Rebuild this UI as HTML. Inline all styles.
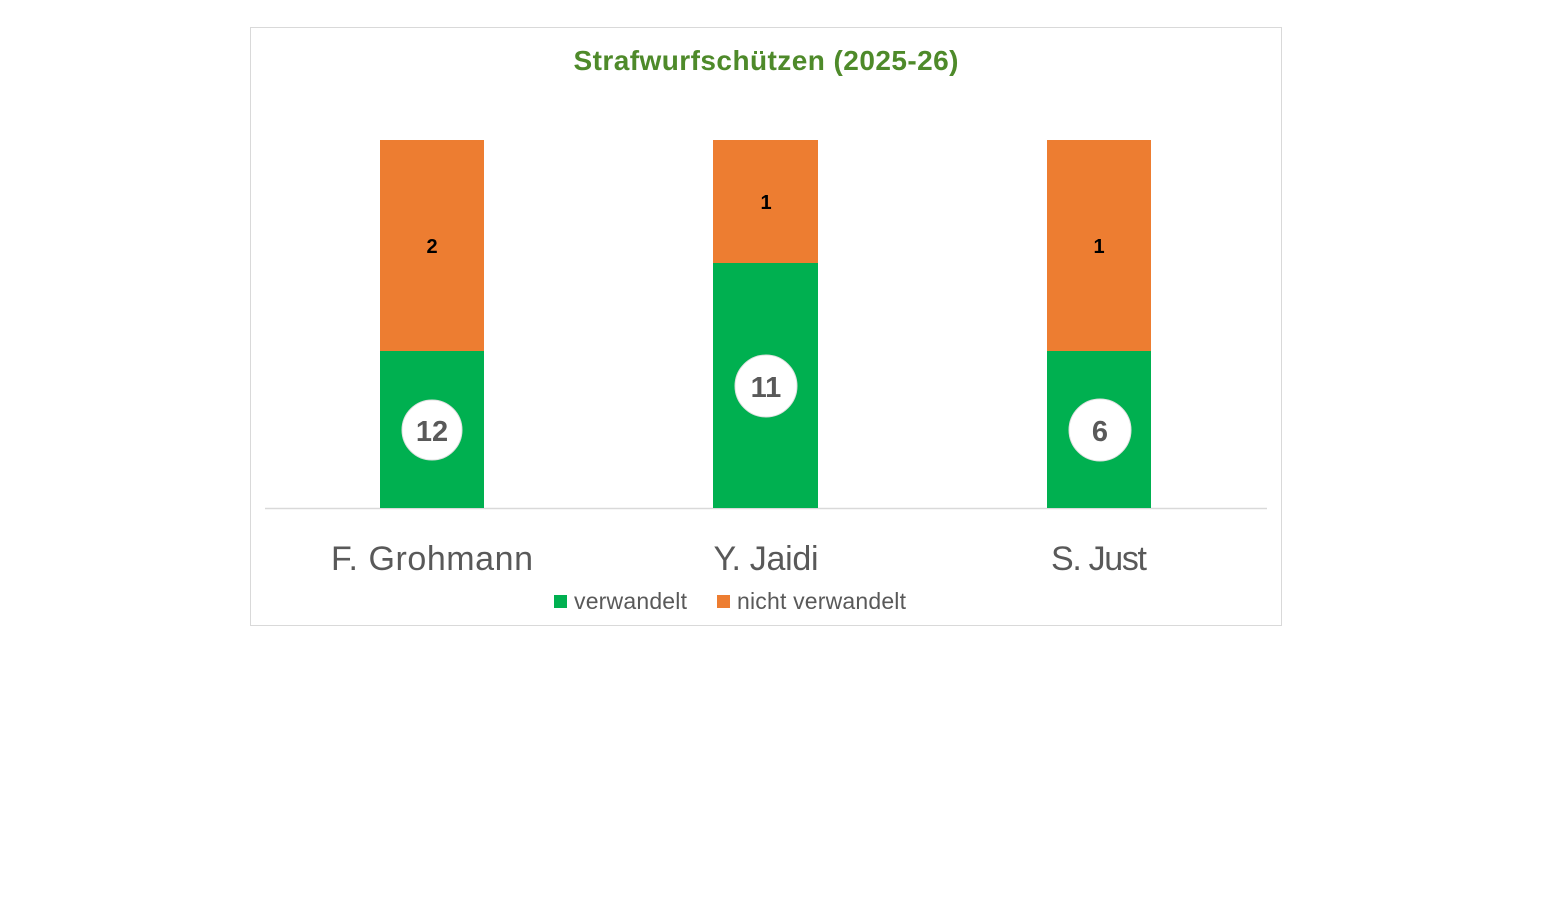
<!DOCTYPE html>
<html><head><meta charset="utf-8"><style>
body{margin:0;width:1567px;height:899px;background:#fff;overflow:hidden}
svg{display:block}
text{font-family:"Liberation Sans",sans-serif}
</style></head><body>
<svg width="1567" height="899" viewBox="0 0 1567 899">
<rect x="250.5" y="27.5" width="1031" height="598" fill="#fff" stroke="#d9d9d9"/>
<text x="766" y="70" text-anchor="middle" font-size="28" font-weight="bold" fill="#4e8a2a" textLength="385">Strafwurfschützen (2025-26)</text>
<line x1="265" y1="508.5" x2="1267" y2="508.5" stroke="#d9d9d9" stroke-width="1.5"/>
<g>
<rect x="380" y="140" width="104" height="211" fill="#ed7d31"/>
<rect x="380" y="351" width="104" height="157" fill="#00b050"/>
<rect x="713" y="140" width="105" height="123" fill="#ed7d31"/>
<rect x="713" y="263" width="105" height="245" fill="#00b050"/>
<rect x="1047" y="140" width="104" height="211" fill="#ed7d31"/>
<rect x="1047" y="351" width="104" height="157" fill="#00b050"/>
</g>
<g font-size="20" font-weight="bold" fill="#000" text-anchor="middle">
<text x="432" y="253">2</text>
<text x="766" y="209">1</text>
<text x="1099" y="253">1</text>
</g>
<g fill="#fff" stroke="#e0e0e0" stroke-width="1">
<circle cx="432" cy="430" r="30"/>
<circle cx="766" cy="386" r="31"/>
<circle cx="1100" cy="430" r="31"/>
</g>
<g font-size="29" font-weight="bold" fill="#595959" text-anchor="middle">
<text x="432" y="441">12</text>
<text x="766" y="397">11</text>
<text x="1100" y="441">6</text>
</g>
<g font-size="34" fill="#595959" text-anchor="middle">
<text x="432" y="570" textLength="202">F. Grohmann</text>
<text x="766" y="570" textLength="105">Y. Jaidi</text>
<text x="1099" y="570" textLength="96">S. Just</text>
</g>
<rect x="554" y="595" width="13" height="13" fill="#00b050"/>
<text x="574" y="609" font-size="23" fill="#595959" textLength="113">verwandelt</text>
<rect x="717" y="595" width="13" height="13" fill="#ed7d31"/>
<text x="737" y="609" font-size="23" fill="#595959" textLength="169">nicht verwandelt</text>
</svg>
</body></html>
